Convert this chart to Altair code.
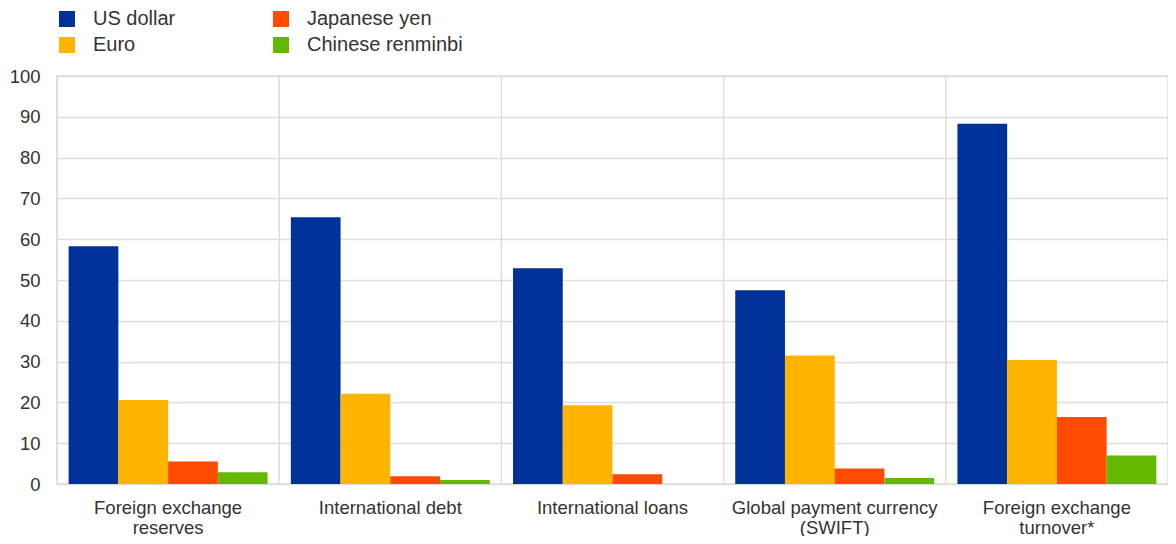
import altair as alt
import pandas as pd

categories = [
    "Foreign exchange|reserves",
    "International debt",
    "International loans",
    "Global payment currency|(SWIFT)",
    "Foreign exchange|turnover*",
]
series = ["US dollar", "Euro", "Japanese yen", "Chinese renminbi"]
colors = ["#003299", "#FFB400", "#FF4B00", "#65B800"]

usd = [58.3, 65.4, 52.9, 47.5, 88.3]
eur = [20.6, 22.1, 19.3, 31.5, 30.4]
jpy = [5.5, 1.9, 2.4, 3.8, 16.4]
cny = [2.9, 1.0, 0.0, 1.5, 7.0]

rows = []
for i, c in enumerate(categories):
    for s, vals in zip(series, [usd, eur, jpy, cny]):
        rows.append({"category": c, "currency": s, "value": vals[i]})
df = pd.DataFrame(rows)
cat_df = pd.DataFrame({"category": categories})

FONT = "Liberation Sans"
GRID = "#dddddd"
TXT = "#333333"

xscale = alt.Scale(domain=categories, paddingInner=0, paddingOuter=0)
xaxis = alt.Axis(
    title=None,
    labelAngle=0,
    labelExpr="split(datum.label, '|')",
    grid=False,
    ticks=False,
    domain=False,
    labelPadding=14,
    labelFontSize=18.5,
    labelLineHeight=20,
    labelLimit=0,
    labelFont=FONT,
    labelColor=TXT,
    labelBaseline="top",
)

grid_rules = alt.Chart(cat_df).mark_rule(color=GRID, strokeWidth=1.5).encode(
    x=alt.X("category:N", scale=xscale, bandPosition=0, axis=xaxis)
)

bars = alt.Chart(df).mark_bar().encode(
    x=alt.X("category:N", scale=xscale, axis=xaxis),
    xOffset=alt.XOffset(
        "currency:N",
        sort=series,
        scale=alt.Scale(domain=series, paddingInner=0, paddingOuter=0.234),
    ),
    y=alt.Y(
        "value:Q",
        scale=alt.Scale(domain=[0, 100]),
        axis=alt.Axis(
            title=None,
            values=list(range(0, 101, 10)),
            ticks=False,
            domain=False,
            labelPadding=17,
            labelFontSize=18.5,
            labelFont=FONT,
            labelColor=TXT,
            gridColor=GRID,
            gridWidth=1.5,
        ),
    ),
    color=alt.Color(
        "currency:N",
        scale=alt.Scale(domain=series, range=colors),
        legend=alt.Legend(
            title=None,
            orient="none",
            legendX=0,
            legendY=-67,
            columns=2,
            symbolType="square",
            symbolSize=256,
            symbolStrokeWidth=0,
            labelFontSize=20,
            labelFont=FONT,
            labelColor=TXT,
            labelOffset=16,
            columnPadding=95,
            rowPadding=6,
            padding=0,
        ),
    ),
)

chart = (
    alt.layer(grid_rules, bars)
    .properties(
        width=1111,
        height=408,
        autosize=alt.AutoSizeParams(type="none"),
        padding={"left": 49, "top": 68, "right": 0, "bottom": 52},
    )
    .configure_view(stroke=GRID, strokeWidth=1.5)
)

chart.save("out.html", embed_options={"renderer": "svg", "actions": False})
